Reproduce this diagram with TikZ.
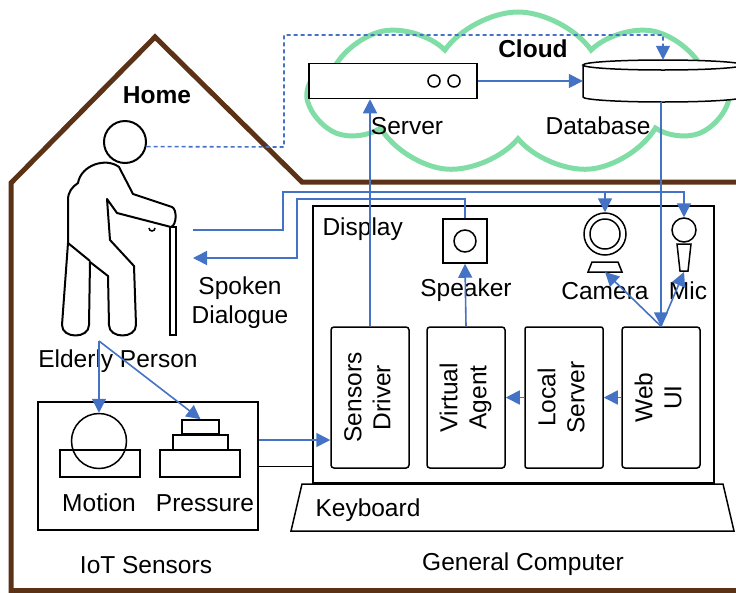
\documentclass[tikz,border=0pt]{standalone}
\usepackage{fontspec}
\setmainfont{Liberation Sans}
\usetikzlibrary{arrows.meta,shapes.symbols}
\definecolor{homebrown}{RGB}{91,50,22}
\definecolor{cloudgreen}{RGB}{128,221,166}
\definecolor{linkblue}{RGB}{68,114,196}
\begin{document}
\begin{tikzpicture}[x=1pt,y=-1pt,font=\fontsize{24.5}{29}\selectfont,
  link/.style={draw=linkblue,line width=1.6pt},
  arr/.style={link,-{Triangle[length=14pt,width=14pt]}},
  blk/.style={draw,line width=1.5pt,inner sep=0pt},
  unit/.style={blk,rounded corners=3pt,minimum width=78pt,minimum height=141pt}]
\useasboundingbox (0,0) rectangle (736,592);
%\draw[step=50,gray,very thin] (0,0) grid (736,592); %background grid

% cloud part
\node[cloud,cloud puffs=9,cloud puff arc=110,cloud ignores aspect,draw=cloudgreen,line width=5pt,
  minimum width=418pt,minimum height=162pt] (cloud) at (518,93) {};
\node (cloudlbl) at (533,49) {\textbf{Cloud}};
\node[blk,minimum width=168pt,minimum height=35pt,fill=white] (server) at (393,81) {};
\draw[line width=1.5pt] (434,81) circle (6pt);
\draw[line width=1.5pt] (454,81) circle (6pt);
\node (serverlbl) at (407,126) {Server};
\node[minimum width=160pt,minimum height=42pt,inner sep=0pt] (db) at (663,81) {};
\draw[blk,fill=white] (583,65) -- (583,97) arc[start angle=180,end angle=0,x radius=80,y radius=5] -- (743,65);
\draw[blk,fill=white] (663,65) ellipse[x radius=80,y radius=5];
\node (dblbl) at (598,126) {Database};

% house
\draw[homebrown,line width=5pt] (740,182) -- (302,182) -- (155,37) -- (11,183) -- (11,590.5) -- (740,590.5);
\node (homelbl) at (157,95) {\textbf{Home}};

% elderly person
\node[circle,draw,line width=2pt,minimum size=42pt,inner sep=0pt] (head) at (125,142) {};
\draw[line width=2pt,line join=round]
  (78,183) .. controls (81,165) and (106,157) .. (119,167) -- (133,194) -- (172,207)
  .. controls (177,209) and (177,225) .. (171,227) -- (117,213) -- (107,199) -- (110,240)
  -- (134,266) -- (136,325) .. controls (136,339) and (109,339) .. (109,325) -- (108,276)
  -- (90,262) -- (89,325) .. controls (89,339) and (62,339) .. (62,325) -- (68,243)
  -- (68,200) .. controls (68,192) and (72,187) .. (78,183) -- cycle;
\draw[line width=2pt] (68,243) -- (90,261);
\draw[line width=1.5pt] (149,228) arc[start angle=180,end angle=0,radius=3];
\draw[line width=1.5pt] (170,227) rectangle (176,335);
\node (personlbl) at (118,361) {Elderly Person};
\coordinate (personfoot) at (99,341);
\coordinate (talkout) at (193,230);
\coordinate (talkin) at (193,258);
\node[align=center] (dialogue) at (240,303) {Spoken\\Dialogue};

% general computer
\node[blk,minimum width=401pt,minimum height=277pt] (display) at (513.5,344.5) {};
\node[anchor=west] (displaylbl) at (319,229) {Display};
\draw[blk] (302,484) -- (723,484) -- (734,531) -- (291,531) -- cycle;
\node[anchor=west] (kbd) at (312,510) {Keyboard};
\node (pclbl) at (523,564) {General Computer};

\node[blk,minimum size=44pt] (speaker) at (465,241) {};
\draw[line width=1.5pt] (speaker.center) circle (11pt);
\node (speakerlbl) at (466,290) {Speaker};

\node[circle,blk,minimum size=42pt] (camera) at (605,234) {};
\draw[line width=1.5pt] (camera.center) circle (15pt);
\draw[blk] (592,262) -- (618,262) -- (622,272) -- (588,272) -- cycle;
\coordinate (camerabase) at (605,272);
\node (cameralbl) at (605,291) {Camera};

\node[circle,blk,minimum size=24pt] (mic) at (684,230) {};
\draw[blk] (677,244) -- (691,244) -- (688,271) -- (680,271) -- cycle;
\coordinate (micbase) at (684,272);
\node (miclbl) at (688,291) {Mic};

\node[unit] (sdrv) at (370,397.5) {\rotatebox{90}{\begin{tabular}{c}Sensors\\Driver\end{tabular}}};
\node[unit] (vagent) at (466,397.5) {\rotatebox{90}{\begin{tabular}{c}Virtual\\Agent\end{tabular}}};
\node[unit,rounded corners=2pt] (lserver) at (564,397.5) {\rotatebox{90}{\begin{tabular}{c}Local\\Server\end{tabular}}};
\node[unit] (webui) at (661,397.5) {\rotatebox{90}{\begin{tabular}{c}Web\\UI\end{tabular}}};

% IoT sensors
\node[blk,minimum width=220pt,minimum height=128pt] (iot) at (148,466) {};
\node[circle,blk,minimum size=55pt] (motion) at (99,441) {};
\draw[blk] (60,450) rectangle (140,477);
\node[blk,minimum width=37pt,minimum height=14pt] (press) at (200.5,427) {};
\draw[blk] (173,435) rectangle (228,450);
\draw[blk] (160,450) rectangle (240,477);
\node (motionlbl) at (99,503) {Motion};
\node (presslbl) at (205,503) {Pressure};
\node (iotlbl) at (146,565) {IoT Sensors};

% connections
\draw[arr,dash pattern=on 4pt off 3pt] (head.-12) -- (284,147) |- (663,35) -- (db.north);
\draw[arr] (server.east) -- (db.west);
\draw[arr] (sdrv.north) -- (sdrv.north |- server.south);
\draw[arr] (webui.north |- db.south) -- (webui.north);
\draw[arr] (webui.north) -- (camerabase);
\draw[arr] (webui.north) -- (micbase);
\draw[arr] (webui.west) -- (lserver.east);
\draw[arr] (lserver.west) -- (vagent.east);
\draw[arr] (vagent.north) -- (speaker.south);
\draw[arr] (talkout) -| (283,192) -| (mic.north);
\draw[arr] (camera.north |- 0,192) -- (camera.north);
\draw[arr] (speaker.north) |- (297,199) |- (talkin);
\draw[arr] (personfoot) -- (motion.north);
\draw[arr] (personfoot) -- (press.north);
\draw[arr] ([yshift=26pt]iot.east) -- ([yshift=26pt]iot.east -| sdrv.west);
\draw[line width=1pt] (iot.east) -- (iot.east -| display.west);
\end{tikzpicture}
\end{document}
